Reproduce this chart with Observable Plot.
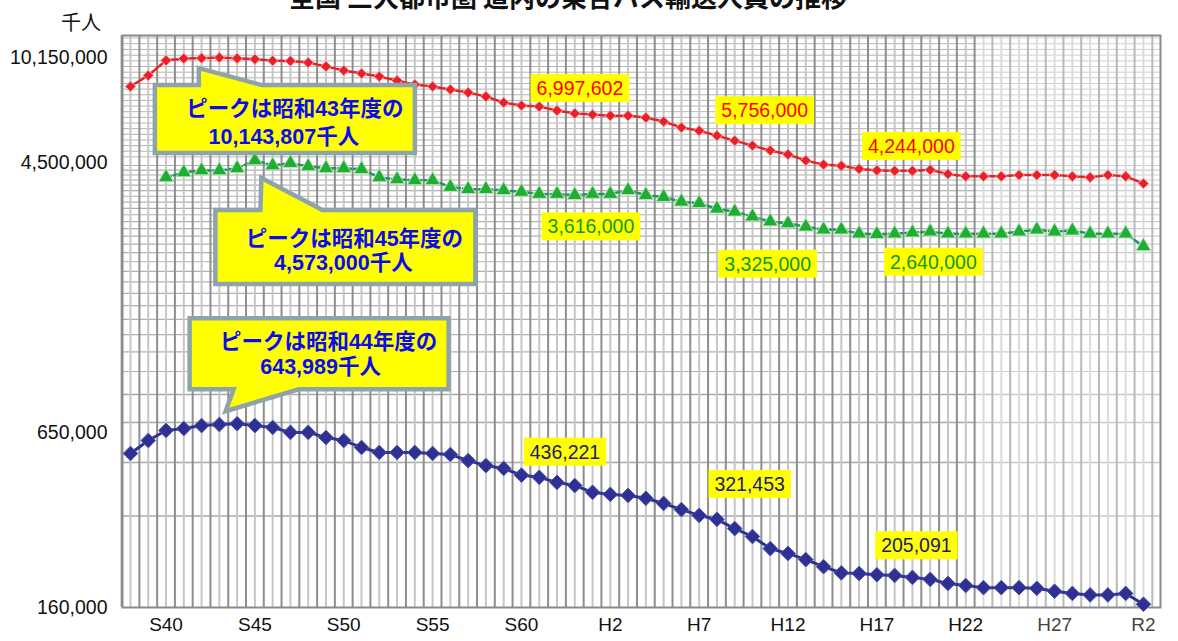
<!DOCTYPE html>
<html>
<head>
<meta charset="utf-8">
<script src="https://cdn.jsdelivr.net/npm/d3@7"></script>
<script src="https://cdn.jsdelivr.net/npm/@observablehq/plot@0.6"></script>
<style>
  body { margin: 0; background: #fff; }
  svg { display: block; }
</style>
</head>
<body>
<div id="chart"></div>
<script>
// ---------------- DATA ----------------
const title = "全国 三大都市圏 道内の乗合バス輸送人員の推移";
const unitLabel = "千人";

// fiscal years S38 (1963) .. R2 (2020)
const fiscalYears = [1963,1964,1965,1966,1967,1968,1969,1970,1971,1972,1973,1974,1975,1976,1977,1978,1979,1980,1981,1982,1983,1984,1985,1986,1987,1988,1989,1990,1991,1992,1993,1994,1995,1996,1997,1998,1999,2000,2001,2002,2003,2004,2005,2006,2007,2008,2009,2010,2011,2012,2013,2014,2015,2016,2017,2018,2019,2020];
// green series starts in S40 (1965)
const greenYears = fiscalYears.slice(2);

// 全国 (thousand persons)
const nationalValues = [8110000,8830000,9920000,10070000,10100000,10143807,10080000,10020000,9900000,9880000,
  9760000,9470000,9180000,8970000,8760000,8490000,8230000,8110000,7920000,7740000,
  7500000,7160000,6997602,6940000,6730000,6580000,6520000,6470000,6470000,6370000,
  6180000,5900000,5756000,5540000,5330000,5130000,4940000,4790000,4570000,4430000,
  4390000,4290000,4244000,4230000,4230000,4260000,4130000,4060000,4060000,4060000,
  4100000,4100000,4100000,4060000,4030000,4100000,4060000,3850000];
// 三大都市圏
const metroValues = [4030000,4180000,4240000,4240000,4310000,4573000,4400000,4480000,4370000,4310000,
  4310000,4280000,4030000,3970000,3940000,3940000,3750000,3690000,3690000,3660000,
  3616000,3560000,3560000,3530000,3560000,3560000,3660000,3530000,3480000,3360000,
  3325000,3190000,3120000,3010000,2900000,2860000,2790000,2730000,2730000,2650000,
  2640000,2650000,2670000,2690000,2650000,2650000,2650000,2650000,2690000,2730000,
  2690000,2710000,2650000,2650000,2650000,2410000];
// 道内
const hokkaidoValues = [514000,567000,612000,621000,635000,640000,643989,635000,626000,603000,
  603000,580000,567000,538000,518000,518000,518000,514000,510000,487000,
  469000,459000,436221,429000,413000,403000,383000,377000,374000,366000,
  352000,336000,321453,312000,291000,274000,250000,241000,230000,218000,
  208000,207000,205091,204000,201000,198000,192000,189000,186000,186000,
  186000,185000,181000,178000,176000,176000,178000,164000];

// labelled years (S60, H7, H17)
const labelYears = [1985, 1995, 2005];

// peak callouts
const peaks = [
  {year: 1968, value: 10143807, lines: ["ピークは昭和43年度の", "10,143,807千人"]},
  {year: 1970, value: 4573000,  lines: ["ピークは昭和45年度の", "4,573,000千人"]},
  {year: 1969, value: 643989,   lines: ["ピークは昭和44年度の", "643,989千人"]}
];

// axis ticks
const yTickValues = [160000, 650000, 4500000, 10150000];
const xTickYears  = [1965, 1970, 1975, 1980, 1985, 1990, 1995, 2000, 2005, 2010, 2015, 2020];
const xTickLabels = ["S40","S45","S50","S55","S60","H2","H7","H12","H17","H22","H27","R2"];

// ---------------- LAYOUT / STYLE ----------------
const FONT = "'Liberation Sans', Arial, 'Noto Sans CJK JP', sans-serif";
const fmt = d3.format(",");
const pastedRegionStart = 2010.6;

// callout geometry (pixel offsets from the peak point)
const calloutLayout = [
  {side: "top",    box: [-64, 28, 196, 96],   tip: [-20, 11],  base: [-20, 43], text: [[76, 51], [65, 79]]},
  {side: "top",    box: [-39, 50, 221, 124],  tip: [7, 18],    base: [6, 68],   text: [[100, 78], [89, 102]]},
  {side: "bottom", box: [-47, -105, 212, -34], tip: [-11, -12], base: [-3, 62],  text: [[92, -82], [84, -57]]}
];
// value label offsets (pixels from the point)
const labelOffsets = {
  national: [[59, -17], [66, -20], [35, -24]],
  metro:    [[70, 35], [69, 61], [57, 28]],
  hokkaido: [[44, -23], [51, -31], [40, -29]]
};

const rows = fiscalYears.map((year, i) => ({year, national: nationalValues[i], hokkaido: hokkaidoValues[i]}));
const greenRows = greenYears.map((year, i) => ({year, metro: metroValues[i]}));

// grids (decorative)
const gridYearsLight = fiscalYears;
const gridYearsDark = fiscalYears.map(y => y + 0.5).filter(y => y < 2020.9);
gridYearsDark.unshift(1962.5 + 0.001);
const gridTop = d3.range(Math.log10(4.7e6), Math.log10(12e6), 0.019).map(v => 10 ** v);
const gridMid = d3.range(950000, 4500000, 150000);
const gridLow = [800000, 650000, 480000, 320000];

// ---------------- RENDER HELPERS ----------------
function calloutMark(c, L) {
  return (index, scales) => {
    const ax = scales.x(c.year), ay = scales.y(c.value);
    const l = ax + L.box[0], t = ay + L.box[1], r = ax + L.box[2], b = ay + L.box[3];
    const tx = ax + L.tip[0], ty = ay + L.tip[1];
    const b1 = ax + L.base[0], b2 = ax + L.base[1];
    const d = L.side === "top"
      ? `M${l},${t}L${b1},${t}L${tx},${ty}L${b2},${t}L${r},${t}L${r},${b}L${l},${b}Z`
      : `M${l},${t}L${r},${t}L${r},${b}L${b2},${b}L${tx},${ty}L${b1},${b}L${l},${b}Z`;
    const g = d3.create("svg:g");
    g.append("path").attr("d", d).attr("fill", "#ffff00")
      .attr("stroke", "#8fa4aa").attr("stroke-width", 4.5).attr("stroke-linejoin", "miter");
    c.lines.forEach((s, i) => {
      g.append("text")
        .attr("x", ax + L.text[i][0]).attr("y", ay + L.text[i][1]).attr("dy", "0.36em")
        .attr("text-anchor", "middle").attr("fill", "#0b0bf0")
        .attr("font-weight", "bold").attr("font-size", 21.5).attr("font-family", FONT)
        .text(s);
    });
    return g.node();
  };
}

function valueLabel(year, value, off, color) {
  return (index, scales) => {
    const cx = scales.x(year) + off[0], cy = scales.y(value) + off[1];
    const s = fmt(value);
    const fs = 19.5;
    const w = [...s].reduce((a, ch) => a + (ch === "," ? 0.278 : 0.556) * fs, 0) + 12;
    const g = d3.create("svg:g");
    g.append("rect").attr("x", cx - w / 2).attr("y", cy - 14).attr("width", w).attr("height", 28).attr("fill", "#ffff00");
    g.append("text").attr("x", cx).attr("y", cy).attr("dy", "0.36em").attr("text-anchor", "middle")
      .attr("fill", color).attr("font-size", fs).attr("font-family", FONT).text(s);
    return g.node();
  };
}

function overlayMark(index, scales, values, dimensions) {
  const x0 = scales.x(pastedRegionStart);
  const {width, height, marginRight, marginTop, marginBottom} = dimensions;
  const g = d3.create("svg:g");
  g.append("rect").attr("x", x0).attr("y", marginTop)
    .attr("width", width - marginRight - x0).attr("height", height - marginTop - marginBottom)
    .attr("fill", "#ffffff").attr("fill-opacity", 0.38);
  return g.node();
}

function headerMark(index, scales, values, dimensions) {
  const g = d3.create("svg:g");
  g.append("text").attr("x", 568).attr("y", 7).attr("text-anchor", "middle")
    .attr("font-size", 26).attr("font-weight", "bold").attr("fill", "#111")
    .attr("font-family", "'Noto Sans CJK JP', sans-serif").text(title);
  g.append("text").attr("x", 81).attr("y", 23).attr("dy", "0.36em").attr("text-anchor", "middle")
    .attr("font-size", 20).attr("fill", "#111")
    .attr("font-family", "'Noto Sans CJK JP', sans-serif").text(unitLabel);
  return g.node();
}

const labelMarks = [];
labelYears.forEach((yr, i) => {
  const ri = fiscalYears.indexOf(yr), gi = greenYears.indexOf(yr);
  labelMarks.push(valueLabel(yr, nationalValues[ri], labelOffsets.national[i], "#ff0000"));
  labelMarks.push(valueLabel(yr, metroValues[gi], labelOffsets.metro[i], "#119911"));
  labelMarks.push(valueLabel(yr, hokkaidoValues[ri], labelOffsets.hokkaido[i], "#1b1b70"));
});

// ---------------- PLOT ----------------
const chart = Plot.plot({
  width: 1178,
  height: 641,
  marginLeft: 122,
  marginRight: 18,
  marginTop: 35,
  marginBottom: 34,
  style: {fontFamily: FONT, background: "#ffffff", overflow: "visible"},
  x: {type: "linear", domain: [1962.55, 2020.96], range: [122, 1160], axis: null},
  y: {type: "log", domain: [160000, 650000, 4500000, 10150000, 12000000], range: [607, 422, 162, 57, 35], axis: null},
  marks: [
    Plot.ruleY(gridTop, {y: d => d, stroke: "#b4b4b4", strokeWidth: 1}),
    Plot.ruleY(gridMid, {y: d => d, stroke: "#b0b0b0", strokeWidth: 1.2}),
    Plot.ruleY(gridLow, {y: d => d, stroke: "#a8a8a8", strokeWidth: 1.5}),
    Plot.ruleX(gridYearsLight, {x: d => d, stroke: "#c6c6c6", strokeWidth: 2}),
    Plot.ruleX(gridYearsDark, {x: d => d, stroke: "#8e8e8e", strokeWidth: 2}),
    overlayMark,
    Plot.frame({stroke: "#8a8a8a", strokeWidth: 2}),
    // 全国
    Plot.line(rows, {x: "year", y: "national", stroke: "#ee1c24", strokeWidth: 2.5, strokeDasharray: "4,2"}),
    Plot.dot(rows, {x: "year", y: "national", symbol: "diamond2", r: 4.8, fill: "#e8202a", stroke: "#f6a5a5", strokeWidth: 1}),
    // 三大都市圏
    Plot.line(greenRows, {x: "year", y: "metro", stroke: "#179a5c", strokeWidth: 2.5, strokeDasharray: "5,3"}),
    Plot.dot(greenRows, {x: "year", y: "metro", symbol: "triangle", r: 5.6, fill: "#1fad34", stroke: "#b4e6b4", strokeWidth: 1}),
    // 道内
    Plot.line(rows, {x: "year", y: "hokkaido", stroke: "#2e3192", strokeWidth: 3}),
    Plot.dot(rows, {x: "year", y: "hokkaido", symbol: "diamond2", r: 6.6, fill: "#2e3192", stroke: "#4a4fb0", strokeWidth: 1}),
    // callouts
    ...peaks.map((c, i) => calloutMark(c, calloutLayout[i])),
    // value labels
    ...labelMarks,
    // axes as text
    Plot.text(yTickValues.filter(v => v !== 650000), {y: d => d, text: d => fmt(d), frameAnchor: "left", dx: -15, textAnchor: "end", fontSize: 19.5, fill: "#111"}),
    Plot.text(yTickValues.filter(v => v === 650000), {y: d => d, text: d => fmt(d), frameAnchor: "left", dx: -15, dy: 10, textAnchor: "end", fontSize: 19.5, fill: "#111"}),
    Plot.text(xTickYears, {x: d => d, text: (d, i) => xTickLabels[i], frameAnchor: "bottom", dy: 23, fontSize: 19, fill: d => d >= 2015 ? "#444" : "#111"}),
    headerMark
  ]
});
document.getElementById("chart").appendChild(chart);
</script>
</body>
</html>
